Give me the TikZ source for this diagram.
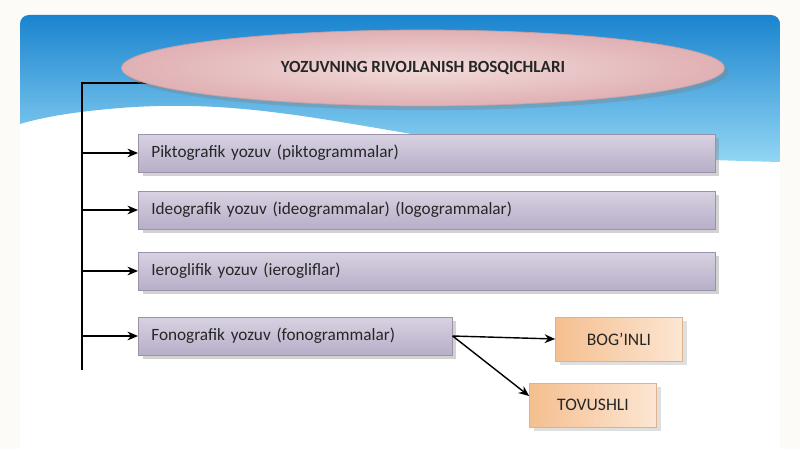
\documentclass[tikz,border=0pt]{standalone}
\usepackage{fontspec}
\setmainfont{Carlito}
\usetikzlibrary{positioning,shapes.geometric,shadows,arrows.meta,backgrounds}
\definecolor{pagebg}{HTML}{FCFBF8}
\definecolor{skytop}{HTML}{1A84CF}
\definecolor{skybot}{HTML}{92D6F4}
\definecolor{pinkout}{HTML}{E0B0B4}
\definecolor{pinkin}{HTML}{F2DCDA}
\definecolor{lilactop}{HTML}{D8D2E2}
\definecolor{lilacbot}{HTML}{B7AEC8}
\definecolor{lilacrim}{HTML}{9A92AA}
\definecolor{peachA}{HTML}{F5BF90}
\definecolor{peachB}{HTML}{FCE6D2}
\definecolor{inktext}{HTML}{262626}
\tikzset{
  stagebox/.style={draw=lilacrim, top color=lilactop, bottom color=lilacbot,
    anchor=west, minimum height=0.76cm, inner xsep=0.26cm, align=left,
    text=inktext, font=\fontsize{9.8}{12}\selectfont, drop shadow={opacity=0.35}},
  soundbox/.style={draw=peachA!80!gray, left color=peachA, right color=peachB,
    minimum width=2.54cm, minimum height=0.88cm, text=inktext,
    font=\fontsize{10}{12}\selectfont, drop shadow={opacity=0.25}},
  link/.style={-{Stealth[length=6pt,width=5pt]}, thick},
}
\begin{document}
\begin{tikzpicture}[x=0.02cm,y=-0.02cm]
\useasboundingbox (0,0) rectangle (800,449);
\begin{pgfonlayer}{background}
\fill[pagebg] (0,0) rectangle (800,449);
\fill[white] (20,15) rectangle (780,449);
% sky with wave
\shade[top color=skytop, bottom color=skybot]
  (20,124) [rounded corners=5pt]-- (20,15) -- (780,15) [sharp corners]-- (780,162)
  .. controls (620,158) and (500,150) .. (400,132)
  .. controls (300,115) and (220,100) .. (120,108)
  .. controls (70,112) and (40,118) .. (20,124) -- cycle;
\end{pgfonlayer}

\node[ellipse, draw=pinkout!70!gray, inner color=pinkin, outer color=pinkout,
  minimum width=12.06cm, minimum height=1.52cm, drop shadow={opacity=0.35},
  text=inktext, font=\bfseries\fontsize{9.7}{12}\selectfont] (title) at (423,68)
  {YOZUVNING RIVOJLANISH BOSQICHLARI};

\node[stagebox, minimum width=11.54cm, text width=11.02cm] (pikto) at (138,153)
  {Piktografik yozuv (piktogrammalar)};
\node[stagebox, minimum width=11.54cm, text width=11.02cm] (ideo) at (138,210)
  {Ideografik yozuv (ideogrammalar) (logogrammalar)};
\node[stagebox, minimum width=11.54cm, text width=11.02cm] (iero) at (138,271)
  {Ieroglifik yozuv (ierogliflar)};
\node[stagebox, minimum width=6.28cm, text width=5.76cm] (fono) at (138,336)
  {Fonografik yozuv (fonogrammalar)};

\node[soundbox] (bog) at (619,339) {BOG'INLI};
\node[soundbox] (tov) at (593,405) {TOVUSHLI};

\coordinate (top) at (82,83);
\coordinate (bot) at (82,370);

\begin{pgfonlayer}{background}
\draw[thick] (title.center |- top) -- (top) -- (bot);
\end{pgfonlayer}
\draw[link] (top |- pikto.west) -- (pikto.west);
\draw[link] (top |- ideo.west) -- (ideo.west);
\draw[link] (top |- iero.west) -- (iero.west);
\draw[link] (top |- fono.west) -- (fono.west);
\draw[link] (fono.east) -- (bog.west);
\draw[link] (fono.east) -- (tov.172);
\end{tikzpicture}
\end{document}
